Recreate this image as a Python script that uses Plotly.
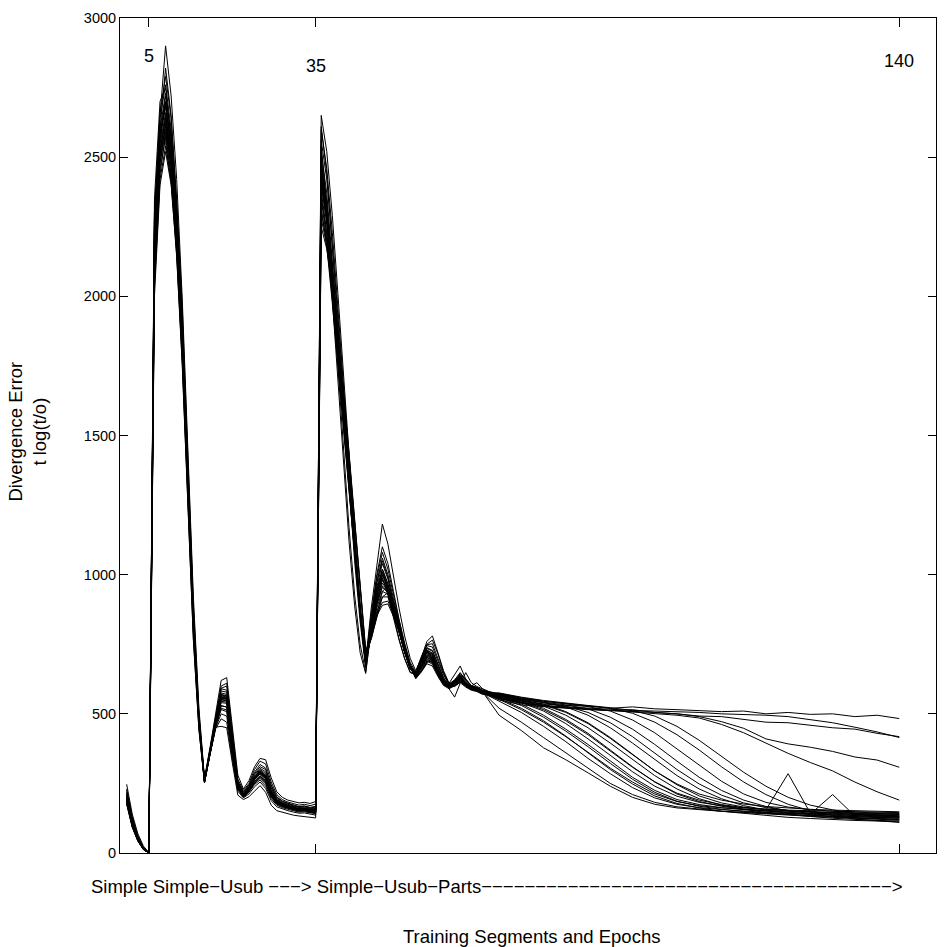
import plotly.graph_objects as go

# Epoch grids for the three parts of each training run
epochs_seg1 = list(range(1, 36))          # Simple / Simple-Usub segment
epochs_seg2 = list(range(36, 66))         # start of Simple-Usub-Parts
epochs_tail = list(range(68, 141, 4))     # rest of Simple-Usub-Parts

seg1_runs = [
    [247, 140, 70, 25, 2, 2300, 2650, 2900, 2720, 2420, 1990, 1460, 920, 520, 268, 380, 500, 620, 630, 460, 280, 230, 260, 310, 340, 335, 270, 220, 200, 190, 185, 180, 182, 178, 185],
    [230, 130, 62, 20, 1, 2250, 2600, 2820, 2650, 2330, 1920, 1380, 860, 485, 262, 375, 490, 600, 610, 440, 265, 225, 250, 300, 330, 320, 255, 210, 192, 183, 178, 172, 175, 170, 176],
    [215, 118, 55, 17, 0, 2350, 2700, 2750, 2560, 2270, 1880, 1360, 845, 480, 258, 370, 485, 590, 585, 420, 255, 218, 242, 285, 310, 300, 240, 200, 185, 178, 170, 166, 168, 162, 165],
    [205, 110, 52, 16, 0, 2200, 2560, 2700, 2540, 2260, 1870, 1350, 840, 478, 260, 368, 478, 575, 570, 405, 250, 212, 236, 275, 300, 285, 228, 192, 180, 172, 166, 160, 162, 158, 160],
    [198, 105, 50, 15, 0, 2150, 2520, 2650, 2500, 2230, 1850, 1340, 835, 476, 258, 365, 472, 565, 560, 395, 245, 210, 232, 270, 292, 275, 220, 188, 176, 170, 163, 158, 160, 155, 156],
    [190, 100, 47, 14, 0, 2100, 2480, 2620, 2480, 2210, 1840, 1330, 830, 474, 257, 362, 468, 555, 552, 388, 242, 208, 230, 266, 288, 270, 216, 185, 174, 168, 161, 156, 158, 153, 152],
    [185, 98, 46, 14, 0, 2050, 2440, 2580, 2440, 2170, 1790, 1290, 800, 460, 254, 358, 458, 528, 525, 370, 236, 204, 224, 256, 276, 258, 207, 180, 170, 164, 158, 153, 154, 149, 148],
    [180, 95, 45, 13, 0, 2300, 2600, 2550, 2420, 2180, 1820, 1320, 825, 470, 256, 358, 462, 540, 538, 376, 238, 205, 226, 258, 278, 260, 208, 180, 170, 164, 158, 153, 154, 150, 148],
    [210, 112, 54, 16, 0, 2180, 2580, 2720, 2580, 2300, 1920, 1400, 870, 490, 261, 366, 475, 570, 565, 400, 248, 212, 235, 272, 296, 280, 224, 190, 178, 171, 165, 159, 161, 156, 158],
    [200, 106, 51, 15, 0, 2220, 2570, 2680, 2520, 2245, 1865, 1345, 838, 477, 258, 364, 470, 560, 555, 392, 244, 209, 231, 268, 290, 272, 218, 186, 175, 169, 162, 157, 159, 154, 154],
    [195, 103, 49, 15, 0, 2160, 2530, 2640, 2490, 2220, 1845, 1335, 832, 475, 257, 362, 466, 552, 548, 385, 241, 207, 229, 264, 285, 267, 214, 183, 173, 167, 160, 156, 157, 152, 151],
    [188, 99, 46, 14, 0, 2120, 2500, 2600, 2470, 2205, 1835, 1328, 829, 473, 256, 358, 457, 530, 524, 368, 235, 203, 223, 255, 274, 255, 205, 179, 169, 163, 157, 152, 153, 149, 147],
    [175, 92, 43, 12, 0, 2000, 2400, 2520, 2400, 2150, 1760, 1250, 770, 445, 252, 355, 450, 500, 492, 350, 228, 200, 218, 246, 262, 240, 195, 172, 163, 157, 151, 147, 148, 144, 141],
    [220, 122, 58, 18, 0, 2270, 2640, 2760, 2600, 2310, 1920, 1400, 870, 492, 262, 370, 482, 582, 578, 412, 252, 215, 238, 280, 304, 292, 234, 196, 182, 175, 168, 163, 165, 160, 162],
    [200, 107, 51, 15, 0, 2240, 2580, 2690, 2530, 2250, 1868, 1347, 839, 477, 258, 365, 471, 562, 557, 394, 245, 210, 232, 269, 291, 274, 219, 187, 175, 169, 163, 157, 159, 154, 155],
    [197, 104, 50, 15, 0, 2190, 2545, 2660, 2505, 2235, 1855, 1340, 836, 476, 257, 363, 469, 557, 553, 390, 243, 209, 230, 267, 289, 271, 217, 185, 174, 168, 162, 156, 158, 153, 153],
    [192, 101, 48, 14, 0, 2140, 2510, 2610, 2475, 2210, 1838, 1330, 830, 474, 256, 361, 465, 545, 542, 383, 240, 207, 228, 263, 284, 266, 213, 182, 172, 166, 160, 155, 156, 152, 150],
    [183, 97, 45, 13, 0, 2080, 2460, 2570, 2430, 2160, 1780, 1270, 790, 455, 253, 356, 454, 515, 508, 360, 232, 202, 221, 250, 268, 248, 200, 176, 166, 160, 154, 150, 151, 146, 144],
    [225, 126, 60, 19, 1, 2280, 2660, 2790, 2640, 2350, 1960, 1430, 895, 505, 265, 372, 486, 592, 600, 425, 258, 220, 245, 290, 318, 305, 245, 202, 187, 179, 172, 167, 169, 164, 168],
    [178, 94, 44, 13, 0, 2030, 2420, 2540, 2410, 2140, 1750, 1240, 765, 442, 252, 354, 446, 482, 470, 338, 222, 198, 212, 238, 255, 232, 188, 166, 158, 152, 147, 143, 144, 140, 136],
    [208, 111, 53, 16, 0, 2210, 2575, 2700, 2540, 2260, 1872, 1349, 840, 478, 259, 366, 474, 568, 563, 398, 247, 211, 234, 271, 294, 278, 222, 189, 177, 170, 164, 158, 160, 155, 157],
    [193, 102, 48, 14, 0, 2150, 2520, 2630, 2485, 2215, 1842, 1333, 831, 474, 256, 362, 467, 550, 547, 386, 241, 208, 229, 265, 286, 268, 215, 184, 173, 167, 161, 155, 157, 152, 152],
    [187, 98, 46, 14, 0, 2100, 2480, 2590, 2460, 2200, 1832, 1326, 828, 472, 256, 357, 455, 520, 514, 364, 234, 203, 222, 252, 271, 252, 203, 178, 168, 162, 156, 151, 152, 147, 146],
    [212, 114, 55, 17, 0, 2230, 2600, 2730, 2570, 2275, 1878, 1352, 843, 479, 259, 356, 452, 455, 450, 325, 208, 192, 202, 222, 242, 218, 172, 152, 146, 141, 136, 133, 131, 129, 126],
]

seg2_runs = [
    [2650, 2520, 2290, 2010, 1720, 1430, 1150, 900, 690, 880, 1040, 1182, 1110, 990, 880, 780, 700, 655, 700, 760, 780, 720, 655, 610, 640, 672, 625, 600, 612, 590],
    [2600, 2460, 2230, 1960, 1680, 1400, 1130, 885, 685, 860, 1000, 1100, 1040, 940, 840, 755, 685, 650, 695, 745, 740, 690, 640, 605, 620, 645, 620, 600, 595, 585],
    [2560, 2420, 2190, 1920, 1650, 1380, 1115, 875, 680, 840, 975, 1060, 1000, 910, 820, 740, 675, 648, 690, 735, 725, 675, 630, 590, 560, 610, 648, 612, 598, 590],
    [2520, 2370, 2140, 1880, 1620, 1360, 1100, 865, 675, 825, 955, 1040, 985, 895, 810, 735, 672, 646, 688, 730, 718, 668, 625, 602, 616, 636, 612, 596, 590, 580],
    [2490, 2340, 2110, 1860, 1605, 1350, 1095, 862, 678, 815, 940, 1020, 965, 880, 798, 726, 665, 642, 684, 725, 712, 662, 620, 600, 614, 634, 610, 595, 589, 579],
    [2460, 2310, 2090, 1840, 1595, 1345, 1092, 860, 680, 800, 920, 1000, 950, 870, 790, 720, 660, 640, 680, 720, 705, 655, 615, 600, 615, 630, 610, 595, 590, 580],
    [2440, 2290, 2070, 1820, 1580, 1335, 1085, 858, 682, 795, 910, 985, 945, 868, 792, 722, 662, 638, 676, 714, 700, 652, 614, 598, 612, 628, 608, 594, 588, 578],
    [2420, 2270, 2050, 1805, 1570, 1325, 1080, 855, 684, 790, 900, 970, 940, 866, 794, 724, 664, 636, 672, 708, 695, 648, 612, 597, 610, 626, 606, 592, 586, 576],
    [2400, 2280, 2080, 1850, 1610, 1370, 1120, 880, 700, 785, 890, 955, 935, 865, 796, 726, 666, 634, 668, 702, 690, 645, 610, 596, 608, 624, 604, 590, 585, 575],
    [2380, 2230, 2010, 1775, 1550, 1315, 1076, 853, 688, 780, 880, 940, 930, 864, 798, 728, 668, 632, 664, 698, 686, 642, 608, 595, 606, 622, 602, 589, 584, 574],
    [2350, 2200, 1990, 1760, 1540, 1310, 1075, 852, 690, 775, 868, 920, 920, 862, 800, 730, 670, 630, 660, 694, 682, 640, 606, 594, 604, 620, 600, 588, 583, 573],
    [2320, 2180, 1975, 1750, 1535, 1308, 1074, 852, 692, 770, 858, 900, 905, 858, 800, 732, 672, 628, 656, 690, 678, 638, 604, 593, 602, 618, 598, 587, 582, 572],
    [2280, 2180, 2020, 1830, 1640, 1420, 1190, 950, 720, 770, 850, 920, 935, 880, 810, 738, 676, 630, 654, 686, 690, 650, 612, 596, 600, 616, 604, 590, 584, 575],
    [2250, 2170, 2030, 1850, 1660, 1440, 1210, 970, 730, 775, 860, 940, 960, 900, 822, 745, 680, 634, 652, 684, 700, 660, 618, 598, 598, 614, 606, 592, 586, 577],
    [2540, 2330, 2040, 1740, 1450, 1170, 930, 750, 650, 810, 945, 1010, 940, 850, 770, 700, 650, 640, 690, 728, 700, 648, 612, 600, 618, 632, 610, 596, 590, 580],
    [2500, 2280, 1990, 1690, 1400, 1120, 890, 720, 645, 805, 935, 990, 925, 840, 765, 698, 648, 642, 694, 722, 694, 646, 610, 600, 620, 634, 612, 598, 591, 581],
    [2470, 2320, 2100, 1850, 1600, 1350, 1098, 866, 672, 830, 970, 1050, 990, 900, 815, 738, 672, 645, 692, 738, 728, 676, 630, 604, 618, 640, 616, 598, 592, 582],
    [2430, 2290, 2080, 1835, 1592, 1342, 1094, 862, 670, 845, 990, 1080, 1020, 925, 830, 745, 675, 646, 696, 748, 752, 700, 645, 608, 622, 648, 622, 602, 594, 584],
    [2610, 2440, 2180, 1900, 1610, 1320, 1050, 830, 665, 820, 945, 1020, 968, 882, 800, 728, 666, 642, 686, 728, 715, 664, 622, 601, 615, 635, 611, 596, 589, 579],
    [2360, 2220, 2010, 1780, 1555, 1320, 1080, 856, 686, 790, 905, 980, 945, 870, 795, 725, 664, 636, 672, 710, 700, 652, 615, 598, 611, 628, 608, 593, 587, 577],
    [2450, 2300, 2080, 1830, 1590, 1340, 1090, 860, 680, 800, 920, 1000, 955, 875, 795, 722, 665, 650, 705, 750, 765, 715, 650, 608, 612, 640, 625, 602, 595, 585],
    [2400, 2260, 2045, 1808, 1572, 1328, 1082, 857, 684, 788, 895, 960, 938, 866, 794, 724, 664, 634, 668, 704, 692, 646, 611, 596, 609, 625, 605, 591, 586, 576],
    [2480, 2330, 2105, 1852, 1603, 1348, 1094, 861, 679, 808, 930, 1010, 958, 874, 794, 722, 662, 641, 683, 723, 708, 658, 617, 600, 614, 632, 610, 595, 589, 579],
    [2300, 2200, 2040, 1850, 1650, 1430, 1200, 960, 725, 768, 852, 890, 895, 850, 795, 730, 670, 626, 650, 680, 672, 634, 602, 590, 600, 612, 596, 585, 580, 570],
]

tail_runs = [
    [565, 545, 535, 530, 528, 520, 525, 518, 515, 512, 508, 510, 500, 505, 498, 500, 490, 495, 483],
    [560, 540, 530, 525, 520, 515, 512, 510, 508, 505, 500, 498, 495, 490, 480, 468, 452, 435, 415],
    [555, 538, 528, 522, 518, 512, 515, 505, 500, 492, 490, 480, 470, 468, 460, 450, 445, 430, 418],
    [550, 532, 525, 520, 515, 512, 508, 505, 500, 490, 472, 448, 410, 392, 380, 365, 345, 334, 308],
    [555, 540, 530, 522, 518, 512, 508, 500, 495, 485, 462, 432, 395, 358, 325, 295, 255, 220, 190],
    [495, 440, 378, 335, 288, 240, 200, 175, 162, 155, 150, 146, 142, 138, 135, 133, 130, 128, 125],
    [520, 470, 415, 360, 305, 250, 210, 182, 166, 157, 150, 145, 140, 135, 132, 128, 125, 122, 118],
    [545, 505, 455, 400, 340, 285, 235, 198, 175, 163, 156, 150, 146, 142, 139, 136, 134, 132, 130],
    [555, 520, 475, 420, 360, 300, 248, 205, 178, 162, 150, 142, 135, 128, 124, 120, 117, 115, 112],
    [552, 515, 470, 418, 362, 305, 255, 212, 185, 170, 162, 157, 153, 150, 148, 146, 144, 142, 140],
    [560, 535, 495, 445, 390, 330, 272, 225, 192, 174, 163, 156, 150, 146, 143, 140, 138, 136, 134],
    [558, 530, 488, 438, 382, 322, 265, 218, 186, 168, 157, 149, 143, 138, 134, 130, 127, 124, 122],
    [562, 540, 510, 465, 410, 350, 292, 240, 204, 182, 170, 162, 157, 154, 152, 150, 148, 146, 145],
    [565, 545, 520, 480, 430, 370, 310, 255, 212, 185, 168, 157, 150, 144, 140, 210, 133, 130, 128],
    [563, 542, 515, 475, 425, 368, 308, 256, 215, 190, 174, 163, 156, 151, 147, 144, 142, 140, 138],
    [566, 548, 528, 495, 450, 395, 335, 278, 230, 195, 172, 157, 146, 138, 131, 125, 120, 117, 115],
    [568, 550, 535, 508, 468, 415, 355, 295, 245, 205, 180, 165, 155, 285, 143, 139, 136, 134, 132],
    [566, 548, 532, 505, 465, 412, 352, 295, 248, 212, 190, 176, 167, 161, 157, 154, 152, 150, 148],
    [570, 552, 540, 525, 495, 450, 395, 335, 278, 230, 195, 170, 155, 145, 137, 131, 126, 123, 120],
    [570, 553, 540, 528, 505, 468, 418, 360, 300, 248, 208, 180, 163, 153, 147, 143, 140, 138, 136],
    [572, 555, 542, 532, 518, 488, 445, 390, 330, 272, 225, 190, 167, 152, 142, 136, 131, 128, 126],
    [572, 556, 545, 535, 526, 510, 478, 432, 375, 315, 258, 212, 182, 165, 156, 150, 146, 144, 142],
    [574, 558, 546, 537, 530, 520, 502, 470, 425, 370, 310, 255, 210, 175, 152, 135, 122, 115, 110],
    [575, 560, 548, 538, 530, 522, 512, 492, 455, 405, 348, 290, 240, 200, 172, 155, 142, 135, 130],
]

top_labels = ["5", "35", "140"]
top_label_epochs = [5, 35, 140]
y_ticks = [0, 500, 1000, 1500, 2000, 2500, 3000]
segment_label = ("Simple Simple\u2212Usub \u2212\u2212\u2212> Simple\u2212Usub\u2212Parts"
                 "\u2212\u2212\u2212\u2212\u2212\u2212\u2212\u2212\u2212\u2212"
                 "\u2212\u2212\u2212\u2212\u2212\u2212\u2212\u2212\u2212\u2212"
                 "\u2212\u2212\u2212\u2212\u2212\u2212\u2212\u2212\u2212\u2212"
                 "\u2212\u2212\u2212\u2212\u2212\u2212\u2212\u2212>")
x_title = "Training Segments and Epochs"
y_title = "Divergence Error<br>t log(t/o)"

epochs_all = epochs_seg1 + epochs_seg2 + epochs_tail

fig = go.Figure()
for s1, s2, t in zip(seg1_runs, seg2_runs, tail_runs):
    fig.add_trace(go.Scatter(
        x=epochs_all, y=s1 + s2 + t, mode="lines",
        line=dict(color="black", width=1), showlegend=False, hoverinfo="skip",
    ))

REG = "Liberation Sans, Arial, Helvetica, sans-serif"

annotations = []
for lab, ep, yp in zip(top_labels, top_label_epochs, [0.9547, 0.9427, 0.9487]):
    annotations.append(dict(x=ep, y=yp, xref="x", yref="paper", text=lab, showarrow=False,
                            font=dict(family=REG, size=18, color="black"),
                            xanchor="center", yanchor="middle"))
annotations.append(dict(x=0.462, y=-0.0406, xref="paper", yref="paper", text=segment_label,
                        showarrow=False, font=dict(family=REG, size=18.5, color="black"),
                        xanchor="center", yanchor="middle"))
annotations.append(dict(x=0.504, y=-0.1002, xref="paper", yref="paper", text=x_title,
                        showarrow=False, font=dict(family=REG, size=18.5, color="black"),
                        xanchor="center", yanchor="middle"))
annotations.append(dict(x=-0.1139, y=0.5048, xref="paper", yref="paper", text=y_title,
                        showarrow=False, textangle=-90,
                        font=dict(family=REG, size=18.5, color="black"),
                        xanchor="center", yanchor="middle"))

fig.update_layout(
    width=947, height=947,
    margin=dict(l=120, r=10, t=15, b=94),
    paper_bgcolor="white", plot_bgcolor="white",
    annotations=annotations,
    xaxis=dict(range=[-0.2, 146.6], tickvals=top_label_epochs, ticks="inside", ticklen=9,
               tickcolor="black", showticklabels=False, showline=True, linecolor="black",
               linewidth=1, mirror="ticks", showgrid=False, zeroline=False),
    yaxis=dict(range=[0, 3000], tickvals=y_ticks, ticks="inside", ticklen=8,
               tickcolor="black", showline=True, linecolor="black", linewidth=1,
               mirror="ticks", showgrid=False, zeroline=False,
               tickfont=dict(family=REG, size=14.5, color="black")),
)

fig.write_html("out.html", config={"displayModeBar": False},
               post_script="document.body.style.margin='0px';")
